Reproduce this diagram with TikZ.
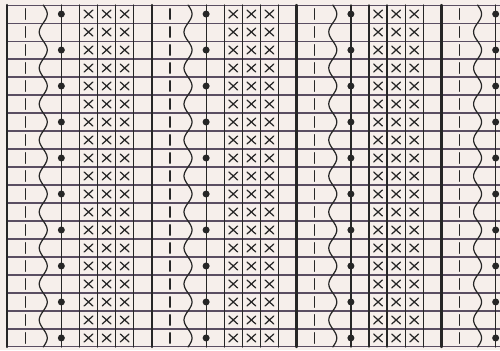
\documentclass[tikz,border=0pt]{standalone}
\usepackage{tikz}
\usetikzlibrary{positioning}
\definecolor{chartPaper}{HTML}{F6EFEB}
\definecolor{chartInk}{HTML}{262626}
\definecolor{chartRule}{HTML}{5A4E62}

\begin{document}
\begin{tikzpicture}[x=0.362cm, y=0.36cm, line cap=round,
    thickrule/.style={chartInk, line width=1.4pt},
    thinrule/.style={chartInk, line width=0.7pt},
    rowrule/.style={chartRule, line width=0.6pt},
    crossmark/.style={chartInk, line width=0.7pt}]
  \useasboundingbox (-0.39,0.28) rectangle (27.24,-19.17);
  \fill[chartPaper] (-0.39,0.28) rectangle (27.24,-19.17);
  \clip (-0.39,0.28) rectangle (27.24,-19.17);
  % Filas
  \foreach \r in {0,...,19} {
    \draw[rowrule] (0,-\r) -- (27.3,-\r);
  }
  % Bloques de 8 columnas
  \foreach \sx in {0,8,16,24} {
    \draw[thickrule] (\sx,0) -- (\sx,-19);
    \draw[thinrule, dash pattern=on 0.21cm off 0.15cm, dash phase=0.285cm] (\sx+1,0) -- (\sx+1,-19);
    \draw[thinrule] plot[domain=0:19, samples=220, smooth, variable=\t]
      ({\sx+2+0.22*cos(180*(\t-0.5))}, {-\t});
    \draw[thinrule] (\sx+3,0) -- (\sx+3,-19);
    \foreach \c in {4,5,6,7} {
      \draw[thinrule] (\sx+\c,0) -- (\sx+\c,-19);
    }
    \foreach \r in {1,3,...,19} {
      \fill[chartInk] (\sx+3,-\r+0.5) circle (0.07cm);
    }
    \foreach \r in {1,...,19} {
      \foreach \c in {4,5,6} {
        \draw[crossmark] (\sx+\c+0.5,-\r+0.5) +(-0.24,-0.22) -- +(0.24,0.22)
          +(-0.24,0.22) -- +(0.24,-0.22);
      }
    }
  }
\end{tikzpicture}
\end{document}
